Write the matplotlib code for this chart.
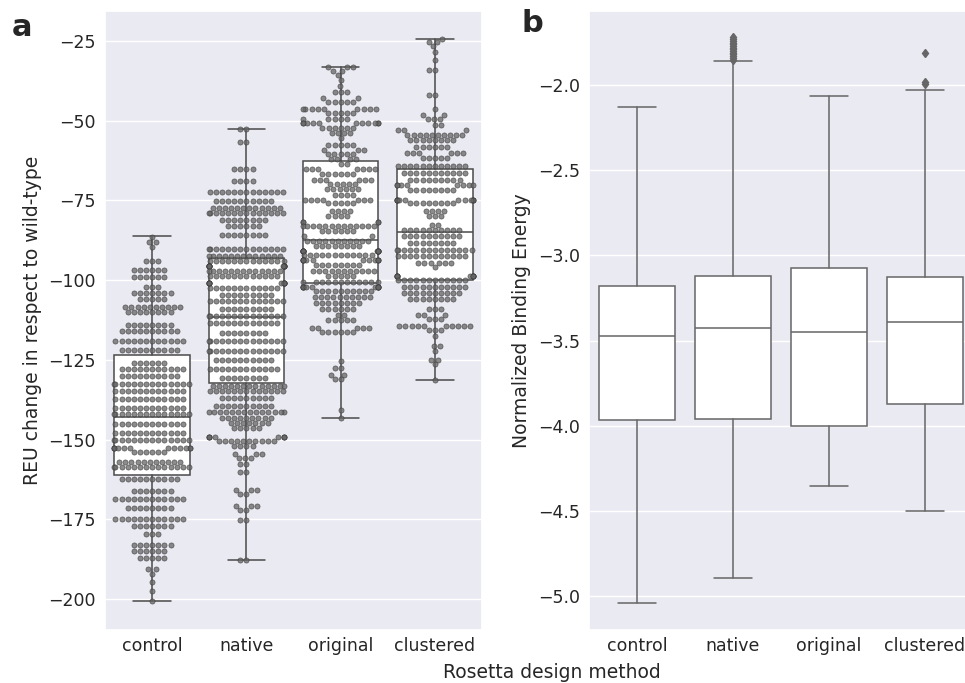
import matplotlib
matplotlib.use('Agg')
import matplotlib.pyplot as plt
import seaborn as sns
import numpy as np
import pandas as pd

methods = ['control', 'native', 'original', 'clustered']

# --- panel a: swarm rows (value level, number of points) ---
control_levels = [-86.5, -88.0, -89.5, -94.0, -96.7, -99.0, -102.0, -104.0, -106.0, -108.3,
                  -110.0, -114.0, -116.0, -119.0, -122.0, -126.0, -128.0, -130.0, -132.5, -134.6,
                  -137.4, -140.0, -142.0, -145.2, -148.0, -150.0, -152.5, -154.0, -157.0, -158.7,
                  -162.5, -166.0, -168.7, -171.5, -175.0, -177.0, -179.6, -183.0, -185.0, -187.2,
                  -190.6, -192.0, -194.7, -197.4, -200.7]
control_counts = [1, 2, 1, 3, 6, 6, 3, 7, 5, 10,
                  8, 8, 10, 12, 10, 6, 11, 10, 14, 12,
                  12, 12, 14, 12, 12, 14, 12, 6, 11, 14,
                  10, 7, 12, 8, 12, 7, 3, 7, 6, 5,
                  2, 1, 1, 1, 1]

native_levels = [-52.6, -56.8, -65.2, -69.0, -72.2, -75.3, -77.4, -79.0, -81.0, -82.9,
                 -85.7, -90.1, -92.5, -94.1, -95.7, -97.2, -98.8, -100.9, -102.4, -104.5,
                 -106.6, -109.2, -111.1, -113.4, -116.5, -119.1, -122.3, -124.9, -128.0, -130.6,
                 -133.2, -134.8, -136.9, -139.5, -141.4, -143.1, -144.7, -146.3, -149.1, -150.4,
                 -152.0, -154.6, -155.9, -157.7, -160.1, -165.8, -167.1, -170.8, -172.1, -175.2,
                 -187.7]
native_counts = [2, 2, 4, 4, 13, 10, 12, 14, 8, 6,
                 8, 14, 13, 13, 14, 13, 12, 12, 12, 9,
                 13, 9, 14, 12, 8, 14, 14, 10, 12, 8,
                 13, 13, 9, 10, 14, 9, 7, 5, 8, 10,
                 4, 3, 3, 2, 2, 3, 2, 3, 2, 2,
                 2]

original_levels = [-33.2, -34.3, -35.6, -37.2, -39.1, -40.9, -42.9, -44.0, -46.4, -47.6,
                   -49.5, -50.8, -52.3, -53.9, -55.5, -57.6, -59.1, -60.4, -62.0, -63.5,
                   -65.2, -66.6, -68.5, -69.8, -71.4, -73.2, -74.8, -75.8, -78.4, -80.0,
                   -81.9, -83.1, -84.7, -86.3, -87.8, -89.4, -91.0, -92.0, -93.6, -95.1,
                   -97.2, -98.8, -100.7, -102.1, -103.5, -105.3, -107.1, -109.0, -110.8, -112.4,
                   -114.9, -116.3, -125.4, -127.5, -129.6, -131.1, -140.7, -143.2]
original_counts = [3, 2, 1, 1, 1, 3, 2, 5, 9, 5,
                   5, 11, 6, 4, 1, 5, 3, 5, 4, 2,
                   7, 6, 6, 5, 6, 4, 7, 5, 4, 4,
                   4, 13, 6, 2, 11, 8, 14, 12, 12, 8,
                   11, 5, 12, 12, 10, 10, 8, 6, 2, 5,
                   5, 6, 1, 2, 2, 2, 1, 1]

clustered_levels = [-24.3, -25.2, -26.6, -28.3, -31.0, -34.1, -42.0, -46.4, -48.2, -49.5,
                    -51.3, -52.9, -54.4, -56.0, -58.1, -60.2, -61.7, -64.2, -66.4, -68.5,
                    -70.1, -71.6, -74.8, -75.8, -78.4, -80.0, -82.6, -84.2, -86.3, -88.3,
                    -90.4, -92.5, -94.6, -95.9, -98.6, -99.8, -102.1, -104.0, -105.9, -109.2,
                    -110.8, -112.1, -114.4, -115.5, -117.6, -120.5, -122.3, -124.9, -126.4, -131.4]
clustered_counts = [1, 2, 1, 1, 1, 2, 2, 1, 2, 3,
                    2, 3, 10, 8, 6, 6, 5, 12, 11, 9,
                    8, 8, 12, 8, 4, 3, 2, 10, 10, 8,
                    14, 12, 6, 1, 11, 12, 11, 10, 8, 3,
                    3, 3, 10, 3, 1, 2, 1, 2, 1, 1]

# box statistics of panel a (whisker low, q1, median, q3, whisker high)
reu_whislo = [-200.7, -187.7, -143.2, -131.4]
reu_q1 = [-161.0, -132.4, -101.0, -100.1]
reu_med = [-142.9, -111.5, -87.3, -84.8]
reu_q3 = [-123.4, -93.0, -62.5, -65.0]
reu_whishi = [-86.3, -52.6, -33.2, -24.3]

# --- panel b: box statistics ---
be_whislo = [-5.039, -4.894, -4.357, -4.504]
be_q1 = [-3.969, -3.961, -4.004, -3.875]
be_med = [-3.472, -3.425, -3.449, -3.394]
be_q3 = [-3.182, -3.122, -3.075, -3.129]
be_whishi = [-2.128, -1.859, -2.063, -2.029]
be_fliers = [[], [-1.72, -1.73, -1.74, -1.75, -1.76, -1.77, -1.78, -1.79, -1.80,
                  -1.81, -1.82, -1.83, -1.84, -1.85],
             [], [-1.814, -1.98, -1.995]]

sns.set_theme(style='darkgrid')
plt.rcParams['font.family'] = ['DejaVu Sans']

W, H = 965, 683
fig = plt.figure(figsize=(W / 100, H / 100), dpi=100)
ax1 = fig.add_axes([105 / W, 1 - 630 / H, 377 / W, 619 / H])
ax2 = fig.add_axes([589 / W, 1 - 630 / H, 384 / W, 619 / H])


def make_stats(lo, q1, med, q3, hi, fl=None):
    stats = []
    for i in range(len(lo)):
        stats.append({'whislo': lo[i], 'q1': q1[i], 'med': med[i], 'q3': q3[i],
                      'whishi': hi[i], 'fliers': fl[i] if fl else []})
    return stats


def draw_boxes(ax, stats, lc, lw):
    ax.bxp(stats, positions=range(4), widths=0.8, patch_artist=True, manage_ticks=False,
           boxprops=dict(facecolor='white', edgecolor=lc, linewidth=lw),
           medianprops=dict(color=lc, linewidth=lw),
           whiskerprops=dict(color=lc, linewidth=lw),
           capprops=dict(color=lc, linewidth=lw),
           flierprops=dict(marker='d', markerfacecolor=lc, markeredgecolor=lc, markersize=4.5),
           zorder=2)


# panel a
levels = [control_levels, native_levels, original_levels, clustered_levels]
counts = [control_counts, native_counts, original_counts, clustered_counts]
rows = []
for m, lv, ct in zip(methods, levels, counts):
    for v in np.repeat(lv, ct):
        rows.append((m, v))
df = pd.DataFrame(rows, columns=['method', 'reu'])

draw_boxes(ax1, make_stats(reu_whislo, reu_q1, reu_med, reu_q3, reu_whishi), '#4a4a4a', 1.1)
sns.swarmplot(data=df, x='method', y='reu', order=methods, ax=ax1, color='#666666',
              alpha=0.75, size=3.7, linewidth=0.5, edgecolor='#3a3a3a', zorder=3)

ax1.set_xlim(-0.5, 3.5)
ax1.set_ylim(-209.7, -15.6)
ax1.set_yticks(np.arange(-200, -24, 25))
ax1.set_ylabel('REU change in respect to wild-type', fontsize=13.5, labelpad=5)
ax1.set_xlabel('')

# panel b
draw_boxes(ax2, make_stats(be_whislo, be_q1, be_med, be_q3, be_whishi, be_fliers), '#666666', 1.1)
ax2.set_xlim(-0.5, 3.5)
ax2.set_ylim(-5.2, -1.565)
ax2.set_yticks(np.arange(-5.0, -1.9, 0.5))
ax2.set_ylabel('Normalized Binding Energy', fontsize=13.5, labelpad=5)

for ax in (ax1, ax2):
    ax.set_xticks(range(4))
    ax.set_xticklabels(methods)
    ax.xaxis.grid(False)
    ax.tick_params(axis='x', labelsize=12.5, length=0, pad=5)
    ax.tick_params(axis='y', labelsize=12.5, length=0, pad=6.5)

fig.text(552 / W, 1 - 672 / H, 'Rosetta design method', ha='center', va='center', fontsize=13.5)
fig.text(12 / W, 1 - 27 / H, 'a', ha='left', va='center', fontsize=22, fontweight='bold')
fig.text(521 / W, 1 - 24 / H, 'b', ha='left', va='center', fontsize=22, fontweight='bold')

fig.savefig('out.png', dpi=100)
